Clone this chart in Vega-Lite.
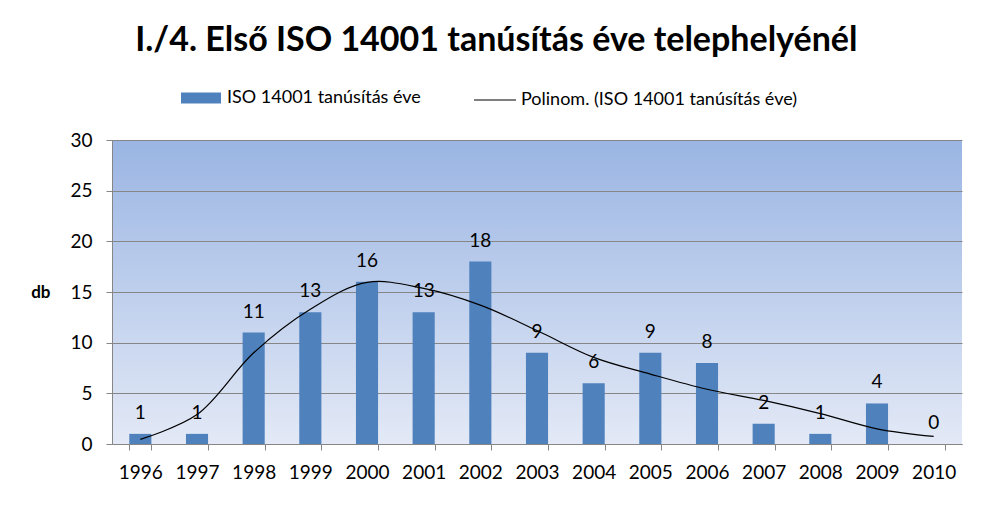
{
  "$schema": "https://vega.github.io/schema/vega-lite/v6.json",
  "width": 850,
  "height": 304,
  "autosize": {"type": "none"},
  "padding": {"left": 112, "top": 140, "right": 25, "bottom": 70},
  "background": "white",
  "title": {
    "text": "I./4. Első ISO 14001 tanúsítás éve telephelyénél",
    "font": "Lato",
    "fontSize": 34,
    "fontWeight": "bold",
    "color": "black",
    "anchor": "middle",
    "frame": "bounds",
    "offset": 20
  },
  "data": {
    "values": [
      {"year": "1996", "count": 1, "trend": 0.46},
      {"year": "1997", "count": 1, "trend": 2.9},
      {"year": "1998", "count": 11, "trend": 9.0},
      {"year": "1999", "count": 13, "trend": 13.3},
      {"year": "2000", "count": 16, "trend": 15.95},
      {"year": "2001", "count": 13, "trend": 15.35},
      {"year": "2002", "count": 18, "trend": 13.7},
      {"year": "2003", "count": 9, "trend": 11.2},
      {"year": "2004", "count": 6, "trend": 8.55},
      {"year": "2005", "count": 9, "trend": 6.9},
      {"year": "2006", "count": 8, "trend": 5.4},
      {"year": "2007", "count": 2, "trend": 4.3},
      {"year": "2008", "count": 1, "trend": 3.0},
      {"year": "2009", "count": 4, "trend": 1.5},
      {"year": "2010", "count": 0, "trend": 0.75}
    ]
  },
  "encoding": {
    "x": {
      "field": "year",
      "type": "ordinal",
      "scale": {"paddingInner": 0.61, "paddingOuter": 0.305},
      "axis": {
        "title": null,
        "labelAngle": 0,
        "labelFont": "Lato",
        "labelFontSize": 19,
        "labelColor": "black",
        "labelPadding": 13,
        "tickBand": "extent",
        "tickSize": 6,
        "tickColor": "#868686",
        "domainColor": "#868686",
        "grid": false
      }
    }
  },
  "layer": [
    {
      "mark": {"type": "bar"},
      "encoding": {
        "y": {
          "field": "count",
          "type": "quantitative",
          "scale": {"domain": [0, 30]},
          "axis": {
            "title": "db",
            "titleAngle": 0,
            "titleFont": "Lato",
            "titleFontSize": 17,
            "titleFontWeight": "bold",
            "titleColor": "black",
            "titleAlign": "right",
            "titleBaseline": "middle",
            "titlePadding": 20,
            "values": [0, 5, 10, 15, 20, 25, 30],
            "labelFont": "Lato",
            "labelFontSize": 19,
            "labelColor": "black",
            "labelPadding": 14,
            "tickSize": 6,
            "tickColor": "#868686",
            "domainColor": "#868686",
            "gridColor": "#868686",
            "gridWidth": 1
          }
        },
        "fill": {
          "datum": "ISO 14001 tanúsítás éve",
          "scale": {"range": ["#4F81BD"]},
          "legend": {
            "title": null,
            "orient": "none",
            "legendX": 69,
            "legendY": -62,
            "symbolType": "M-1,-0.275H1V0.275H-1Z",
            "symbolSize": 1600,
            "symbolStrokeWidth": 0,
            "labelFont": "Lato",
            "labelFontSize": 18,
            "labelFontWeight": "normal",
            "labelLimit": 400,
            "labelColor": "black",
            "labelOffset": 6,
            "padding": 0
          }
        }
      }
    },
    {
      "mark": {"type": "line", "interpolate": "catmull-rom", "strokeWidth": 1.2},
      "encoding": {
        "y": {"field": "trend", "type": "quantitative"},
        "stroke": {
          "datum": "Polinom. (ISO 14001 tanúsítás éve)",
          "scale": {"range": ["black"]},
          "legend": {
            "title": null,
            "orient": "none",
            "legendX": 361,
            "legendY": -62,
            "symbolType": "stroke",
            "symbolSize": 1764,
            "symbolStrokeWidth": 1.2,
            "labelFont": "Lato",
            "labelFontSize": 18,
            "labelFontWeight": "normal",
            "labelLimit": 400,
            "labelColor": "black",
            "labelOffset": 4,
            "padding": 0
          }
        }
      }
    },
    {
      "mark": {"type": "text", "font": "Lato", "fontSize": 19, "color": "black", "baseline": "middle", "dy": -21},
      "encoding": {
        "y": {"field": "count", "type": "quantitative"},
        "text": {"field": "count", "type": "quantitative"}
      }
    }
  ],
  "config": {
    "view": {
      "stroke": null,
      "fill": {
        "gradient": "linear",
        "x1": 0, "y1": 0, "x2": 0, "y2": 1,
        "stops": [
          {"offset": 0, "color": "#9AB5E3"},
          {"offset": 1, "color": "#E3E9F6"}
        ]
      }
    }
  }
}
